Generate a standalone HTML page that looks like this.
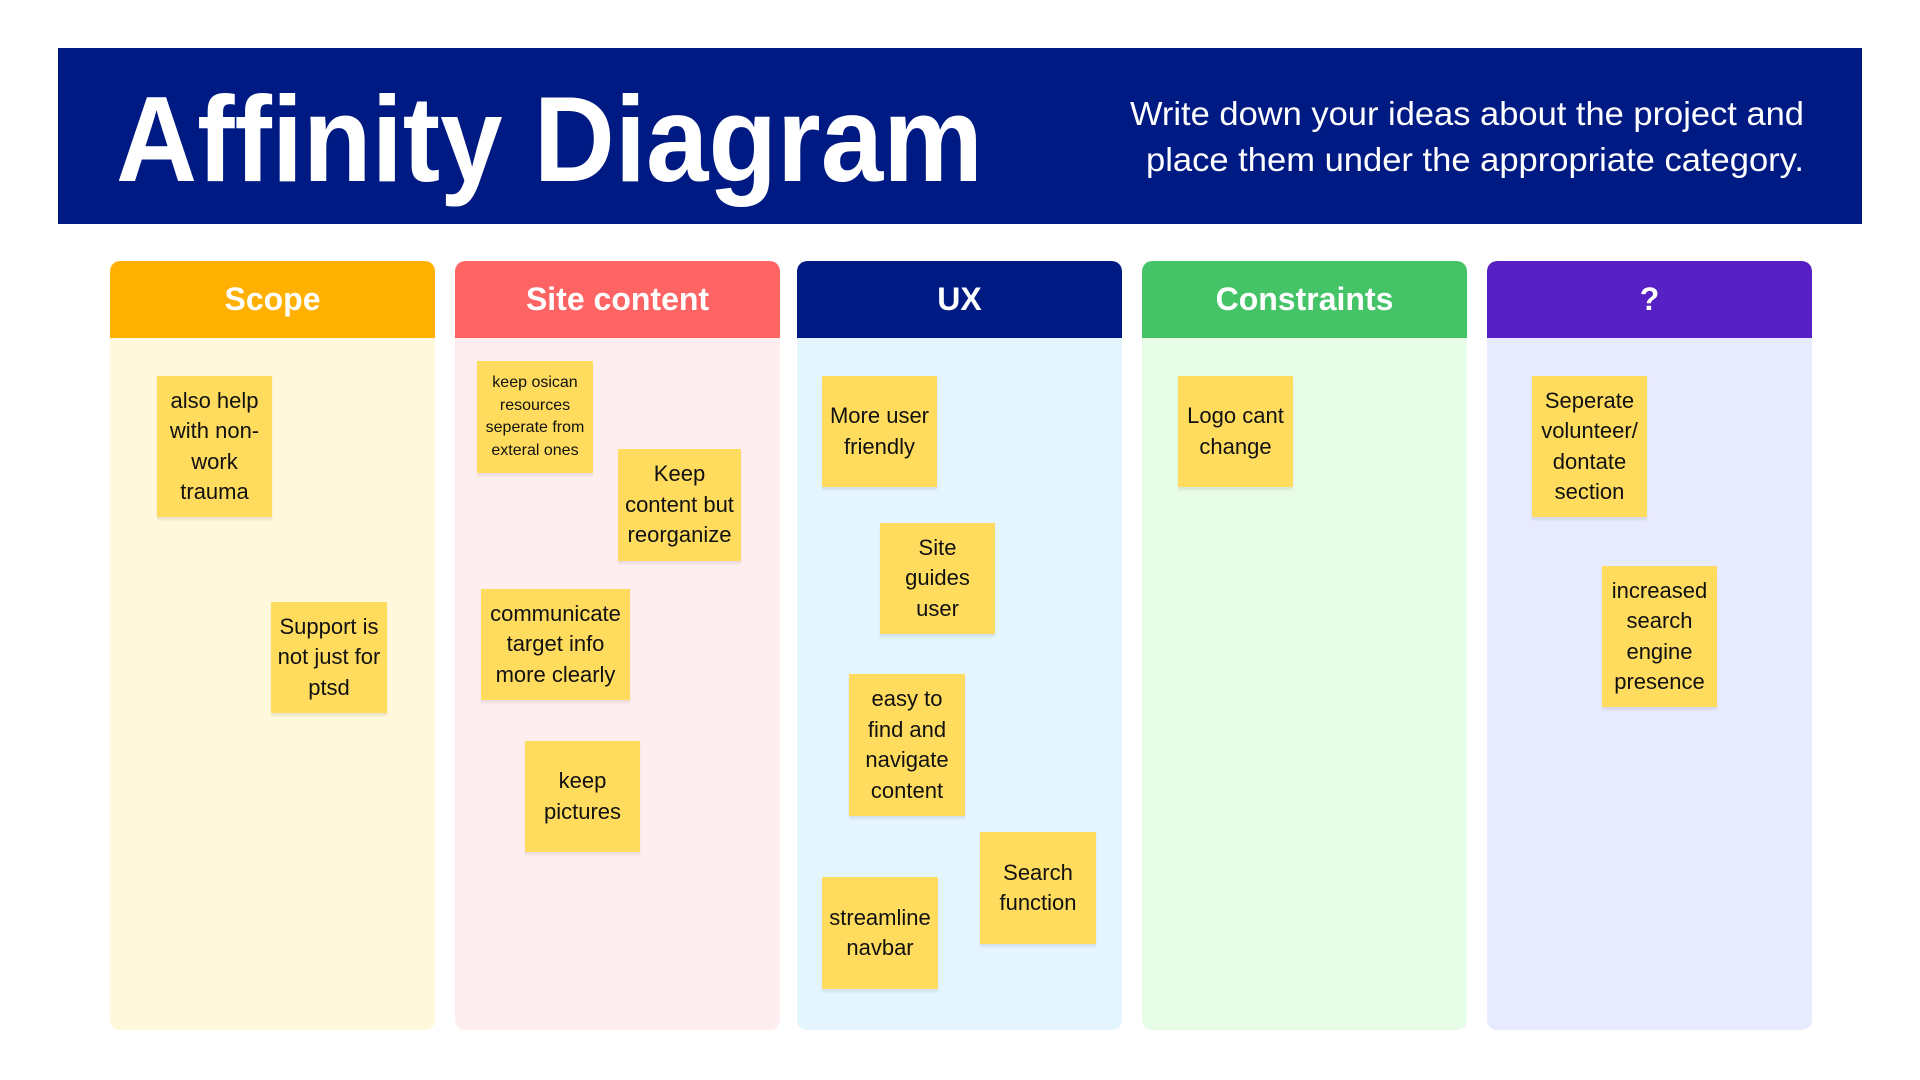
<!DOCTYPE html>
<html><head><meta charset="utf-8"><style>
*{margin:0;padding:0;box-sizing:border-box}
body{width:1920px;height:1080px;background:#fff;position:relative;overflow:hidden;font-family:"Liberation Sans",sans-serif}
.hdr{position:absolute;left:58px;top:48px;width:1804px;height:176px;background:#001A84}
.col{position:absolute;top:261px;width:325px;height:769px;border-radius:10px;overflow:hidden}
.col .h{height:77px;color:#fff;font-weight:bold;font-size:32px;display:flex;align-items:center;justify-content:center;border-radius:10px 10px 0 0}
.col .b{height:692px}
.n{position:absolute;background:#FFDC5E;color:#111;font-size:22px;line-height:30.5px;text-align:center;display:flex;align-items:center;justify-content:center;padding:0 6px;box-shadow:0 3px 2px rgba(0,0,0,0.08)}
.s{font-size:16px;line-height:22.5px}
</style></head><body>
<div class="hdr"></div>
<svg style="position:absolute;left:0;top:0" width="1920" height="260">
<text x="116" y="181" font-family="Liberation Sans" font-weight="bold" font-size="122" fill="#fff" textLength="867" lengthAdjust="spacingAndGlyphs">Affinity Diagram</text>
<text x="1804" y="125" text-anchor="end" font-family="Liberation Sans" font-size="33" fill="#fff" textLength="674" lengthAdjust="spacingAndGlyphs">Write down your ideas about the project and</text>
<text x="1804" y="171" text-anchor="end" font-family="Liberation Sans" font-size="33" fill="#fff" textLength="658" lengthAdjust="spacingAndGlyphs">place them under the appropriate category.</text>
</svg>
<div class="col" style="left:110px"><div class="h" style="background:#FFB000">Scope</div><div class="b" style="background:#FFF8DC"></div></div>
<div class="col" style="left:455px"><div class="h" style="background:#FF6464">Site content</div><div class="b" style="background:#FFEEF0"></div></div>
<div class="col" style="left:797px"><div class="h" style="background:#001A84">UX</div><div class="b" style="background:#E4F5FE"></div></div>
<div class="col" style="left:1142px"><div class="h" style="background:#44C467">Constraints</div><div class="b" style="background:#E8FDE8"></div></div>
<div class="col" style="left:1487px"><div class="h" style="background:#5720C4">?</div><div class="b" style="background:#E8EAFD"></div></div>

<div class="n" style="left:157px;top:376px;width:115px;height:141px">also help with non-work trauma</div>
<div class="n" style="left:271px;top:602px;width:116px;height:111px">Support is not just for ptsd</div>

<div class="n s" style="left:477px;top:361px;width:116px;height:112px">keep osican resources seperate from exteral ones</div>
<div class="n" style="left:618px;top:449px;width:123px;height:112px">Keep content but reorganize</div>
<div class="n" style="left:481px;top:589px;width:149px;height:111px">communicate target info more clearly</div>
<div class="n" style="left:525px;top:741px;width:115px;height:111px">keep pictures</div>

<div class="n" style="left:822px;top:376px;width:115px;height:111px">More user friendly</div>
<div class="n" style="left:880px;top:523px;width:115px;height:111px">Site guides user</div>
<div class="n" style="left:849px;top:674px;width:116px;height:142px">easy to find and navigate content</div>
<div class="n" style="left:980px;top:832px;width:116px;height:112px">Search function</div>
<div class="n" style="left:822px;top:877px;width:116px;height:112px">streamline navbar</div>

<div class="n" style="left:1178px;top:376px;width:115px;height:111px">Logo cant change</div>

<div class="n" style="left:1532px;top:376px;width:115px;height:141px">Seperate volunteer/ dontate section</div>
<div class="n" style="left:1602px;top:566px;width:115px;height:141px">increased search engine presence</div>
</body></html>
